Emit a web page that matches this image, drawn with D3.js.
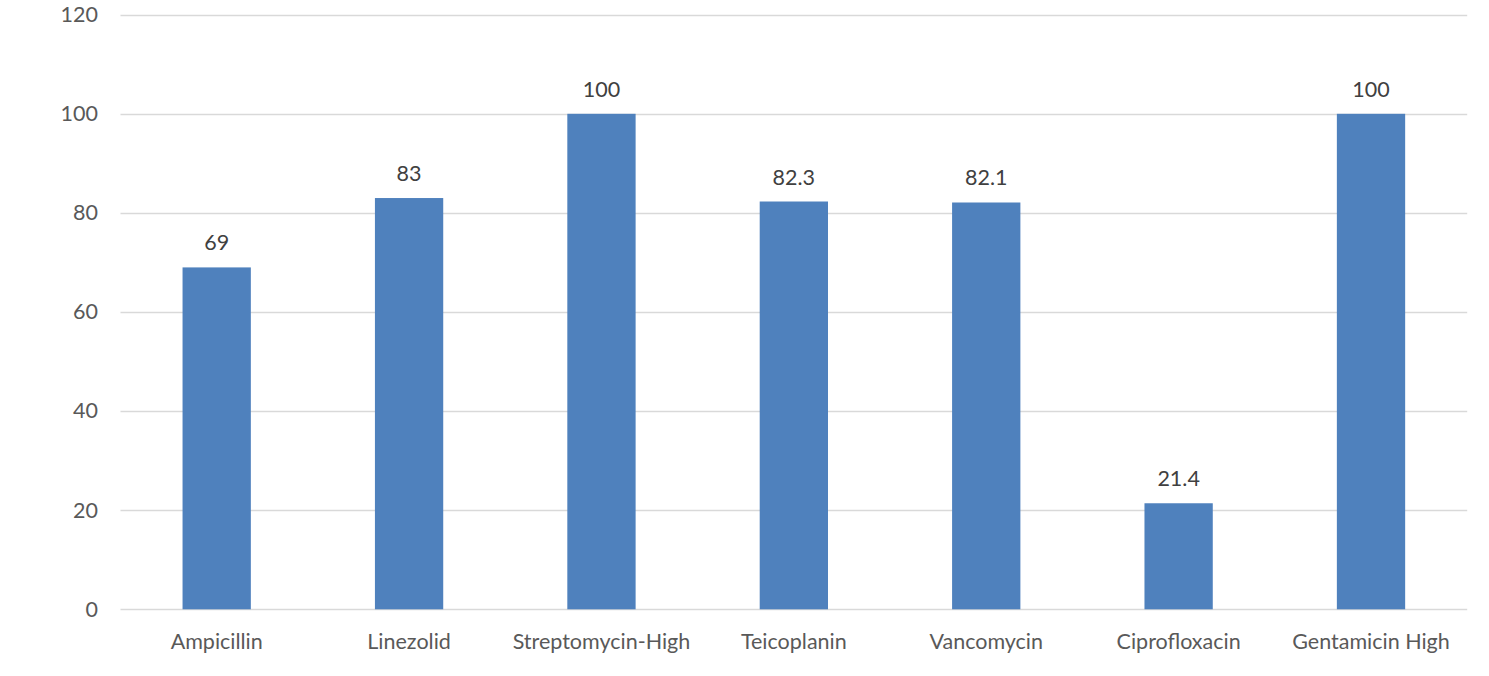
<!DOCTYPE html>
<html>
<head>
<meta charset="utf-8">
<script src="https://cdn.jsdelivr.net/npm/d3@7"></script>
<style>
  html, body { margin: 0; padding: 0; background: #fff; }
  svg { display: block; font-family: Lato, "Open Sans", sans-serif; }
</style>
</head>
<body>
<svg id="chart" width="1489" height="676"></svg>
<script>
// Antibiotic resistance percentages
const categories = ["Ampicillin", "Linezolid", "Streptomycin-High", "Teicoplanin", "Vancomycin", "Ciprofloxacin", "Gentamicin High"];
const values = [69, 83, 100, 82.3, 82.1, 21.4, 100];
const valueLabels = ["69", "83", "100", "82.3", "82.1", "21.4", "100"];
const yTicks = [0, 20, 40, 60, 80, 100, 120];

const svg = d3.select("#chart");
const plotLeft = 120.5, plotRight = 1467.2, plotTop = 14.7, plotBottom = 609.3;
const fontSize = 21.5;

const x = d3.scaleBand().domain(categories).range([plotLeft, plotRight]).paddingInner(0.645).paddingOuter(0.3225);
const y = d3.scaleLinear().domain([0, 120]).range([plotBottom, plotTop]);

// Gridlines
svg.append("g").selectAll("line").data(yTicks).join("line")
  .attr("x1", plotLeft).attr("x2", plotRight)
  .attr("y1", d => Math.round(y(d)) + 0.5).attr("y2", d => Math.round(y(d)) + 0.5)
  .attr("stroke", "#d9d9d9").attr("stroke-width", 1.3);

// Y axis labels
const yAxis = d3.axisLeft(y).tickValues(yTicks).tickSize(0).tickPadding(0);
svg.append("g").attr("transform", "translate(98,0)").call(yAxis)
  .call(g => g.select(".domain").remove())
  .call(g => g.selectAll("text").attr("fill", "#595959").attr("font-size", fontSize).attr("font-family", "Lato, 'Open Sans', sans-serif"));

// Bars
svg.append("g").selectAll("rect").data(values).join("rect")
  .attr("x", (d, i) => x(categories[i]))
  .attr("width", x.bandwidth())
  .attr("y", d => y(d))
  .attr("height", d => y(0) - y(d))
  .attr("fill", "#4f81bd");

// Value labels
svg.append("g").selectAll("text").data(values).join("text")
  .attr("x", (d, i) => x(categories[i]) + x.bandwidth() / 2)
  .attr("y", d => y(d) - 17)
  .attr("text-anchor", "middle")
  .attr("fill", "#404040").attr("font-size", fontSize)
  .text((d, i) => valueLabels[i]);

// Category axis
const xAxis = d3.axisBottom(x).tickSize(0).tickPadding(0);
svg.append("g").attr("transform", `translate(0,${plotBottom + 24})`).call(xAxis)
  .call(g => g.select(".domain").remove())
  .call(g => g.selectAll("text").attr("fill", "#595959").attr("font-size", fontSize).attr("font-family", "Lato, 'Open Sans', sans-serif"));
</script>
</body>
</html>
